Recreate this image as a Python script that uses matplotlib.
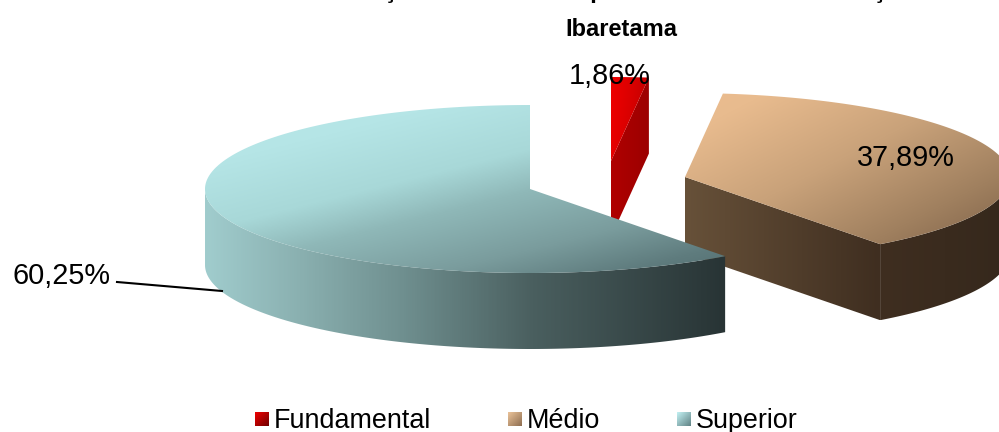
import numpy as np
import matplotlib
matplotlib.use("Agg")
import matplotlib.pyplot as plt
from matplotlib.colors import LinearSegmentedColormap
from matplotlib.patches import Polygon

plt.rcParams["font.family"] = ["Liberation Sans", "DejaVu Sans"]

categories = ["Fundamental", "Médio", "Superior"]
shares = [1.86, 37.89, 60.25]
labels = ["1,86%", "37,89%", "60,25%"]
title_top = "Distribuição dos docentes por modalidade de formação em"
title_bottom = "Ibaretama"

# pie geometry, in pixels of the 999x432 picture
RX, RY = 325, 84
DEPTH = 76
CENTRES = {"Fundamental": (611, 161), "Médio": (685, 177), "Superior": (530, 189)}


def rim(cx, cy, a0, a1, n=160):
    """Ellipse points, angles in degrees clockwise from 12 o'clock."""
    t = np.radians(np.linspace(a0, a1, n))
    return np.column_stack([cx + RX * np.sin(t), cy - RY * np.cos(t)])


def shade(ax, pts, colors, direction, zorder):
    """Fill a polygon with a linear gradient, direction is (dx, dy)."""
    x0, y0 = pts.min(axis=0)
    x1, y1 = pts.max(axis=0)
    xx, yy = np.meshgrid(np.linspace(0, 1, 200), np.linspace(0, 1, 200))
    g = xx * direction[0] + yy * direction[1]
    g = (g - g.min()) / (g.max() - g.min())
    cmap = LinearSegmentedColormap.from_list("g", colors)
    im = ax.imshow(g, cmap=cmap, extent=(x0, x1, y1, y0), aspect="auto",
                   origin="upper", interpolation="bilinear", zorder=zorder)
    poly = Polygon(pts, closed=True, transform=ax.transData, fc="none", ec="none")
    ax.add_patch(poly)
    im.set_clip_path(poly)


fig = plt.figure(figsize=(9.99, 4.32), dpi=100)
ax = fig.add_axes([0, 0, 1, 1])

stops = np.cumsum([0] + shares) * 3.6

# Fundamental
cx, cy = CENTRES["Fundamental"]
a0, a1 = stops[0], stops[1]
arc = rim(cx, cy, a0, a1, 20)
apex = np.array([cx, cy])
cut = np.vstack([arc[-1], apex, apex + [0, DEPTH], arc[-1] + [0, DEPTH]])
shade(ax, cut, ["#b00000", "#9c0000"], (1, 0), 1)
shade(ax, np.vstack([apex, arc]), ["#f00000", "#d80000", "#b80000"], (1, 0.25), 2)

# Medio
cx, cy = CENTRES["Médio"]
a0, a1 = stops[1], stops[2]
apex = np.array([cx, cy])
arc = rim(cx, cy, a0, a1)
end = arc[-1]
cut = np.vstack([apex, end, end + [0, DEPTH], apex + [0, DEPTH]])
shade(ax, cut, ["#675139", "#3f2e20"], (1, 0), 3)
side = rim(cx, cy, 90, a1)
shade(ax, np.vstack([side, (side + [0, DEPTH])[::-1]]), ["#3f2e20", "#35281c"], (1, 0), 3)
shade(ax, np.vstack([apex, arc]),
      [(0, "#ecbd8f"), (0.13, "#e8bb8e"), (0.46, "#c9a27a"), (0.77, "#a0805f"), (1, "#7f6249")],
      (1, 0.9), 4)

# Superior
cx, cy = CENTRES["Superior"]
a0, a1 = stops[2], stops[3]
apex = np.array([cx, cy])
arc = rim(cx, cy, a0, a1)
side = rim(cx, cy, a0, 270)
shade(ax, np.vstack([side, (side + [0, DEPTH])[::-1]]),
      [(0, "#a0cccd"), (0.18, "#8ab0b0"), (0.38, "#6f8f8f"), (0.63, "#4a5f5f"), (1, "#283435")],
      (1, 0), 5)
shade(ax, np.vstack([apex, arc]),
      [(0, "#b9e8ea"), (0.2, "#b5e5e6"), (0.42, "#a8d8d8"), (0.56, "#8fb8b8"),
       (0.76, "#7a9c9d"), (0.91, "#5f7c7e"), (1, "#557072")],
      (1, 1.3), 6)

# data labels
ax.text(610, 84, labels[0], fontsize=20.8, ha="center", va="baseline", zorder=10)
ax.text(906, 166, labels[1], fontsize=20.8, ha="center", va="baseline", zorder=10)
ax.text(62, 284, labels[2], fontsize=20.8, ha="center", va="baseline", zorder=10)
ax.plot([117, 222], [282, 291], color="black", lw=1.5, zorder=10)

# title, first line is cut off by the top edge as in the original
ax.text(621, -2, title_top, fontsize=17, fontweight="bold", ha="center", va="baseline")
ax.text(621, 36, title_bottom, fontsize=17, fontweight="bold", ha="center", va="baseline")

# legend
key_colors = [["#f00000", "#700000"], ["#ecc49a", "#8d6d50"], ["#c4f2f4", "#5f8284"]]
key_x = [255, 508, 677]
for name, x, cols in zip(categories, key_x, key_colors):
    box = np.array([[x, 412], [x + 14, 412], [x + 14, 426], [x, 426]], dtype=float)
    shade(ax, box, cols, (1, 1), 8)
    ax.text(x + 19, 428, name, fontsize=19.4, ha="left", va="baseline")

ax.set_xlim(0, 999)
ax.set_ylim(432, 0)
ax.axis("off")
fig.savefig("out.png", dpi=100)
